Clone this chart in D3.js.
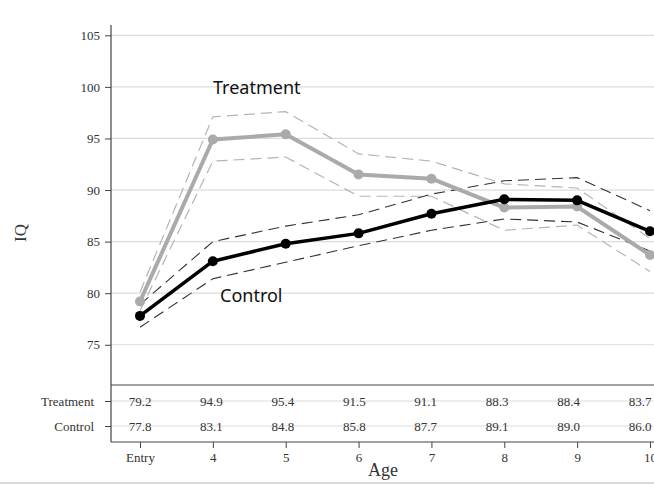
<!DOCTYPE html>
<html>
<head>
<meta charset="utf-8">
<script src="https://cdn.jsdelivr.net/npm/d3@7"></script>
<style>
  body { margin: 0; background: #fff; }
  .axis text { font-family: "Liberation Serif", "DejaVu Serif", serif; font-size: 13px; fill: #333; }
  .axis line { stroke: #444; }
</style>
</head>
<body>
<svg id="chart" width="654" height="485"></svg>
<script>
const ages = ["Entry", "4", "5", "6", "7", "8", "9", "10"];
const treatment = [79.2, 94.9, 95.4, 91.5, 91.1, 88.3, 88.4, 83.7];
const treatmentUpper = [80.1, 97.1, 97.6, 93.5, 92.8, 90.6, 90.2, 85.3];
const treatmentLower = [78.3, 92.8, 93.2, 89.4, 89.4, 86.1, 86.6, 82.1];
const control = [77.8, 83.1, 84.8, 85.8, 87.7, 89.1, 89.0, 86.0];
const controlUpper = [78.9, 85.0, 86.5, 87.6, 89.6, 90.9, 91.2, 88.0];
const controlLower = [76.7, 81.4, 83.0, 84.6, 86.1, 87.2, 86.9, 84.1];
const yTicks = [75, 80, 85, 90, 95, 100, 105];
const rowNames = ["Treatment", "Control"];

const svg = d3.select("#chart");
const plotLeft = 111, plotRight = 654, plotTop = 25, sep = 385, plotBottom = 442;

const x = d3.scalePoint().domain(ages).range([140, 650]);
// the printed table values sit slightly left of the age ticks
const xTable = d3.scalePoint().domain(ages).range([140, 640]);
const y = d3.scaleLinear().domain([71.1, 106]).range([sep, plotTop]);
const row = d3.scalePoint().domain(rowNames).range([401, 426]);

// gridlines
svg.append("g").selectAll("line")
    .data(yTicks)
  .enter().append("line")
    .attr("x1", plotLeft).attr("x2", plotRight)
    .attr("y1", d => y(d)).attr("y2", d => y(d))
    .attr("stroke", "#dcdcdc").attr("stroke-width", 1.2);
svg.append("g").selectAll("line")
    .data(rowNames)
  .enter().append("line")
    .attr("x1", plotLeft).attr("x2", plotRight)
    .attr("y1", d => row(d)).attr("y2", d => row(d))
    .attr("stroke", "#dcdcdc").attr("stroke-width", 1.2);

// axes
const yAxis = svg.append("g")
    .attr("class", "axis")
    .attr("transform", "translate(" + plotLeft + ",0)")
    .call(d3.axisLeft(y).tickValues(yTicks).tickSize(6).tickPadding(5));
yAxis.select(".domain").remove();

const rAxis = svg.append("g")
    .attr("class", "axis")
    .attr("transform", "translate(" + plotLeft + ",0)")
    .call(d3.axisLeft(row).tickSize(6).tickPadding(11));
rAxis.select(".domain").remove();

const xAxis = svg.append("g")
    .attr("class", "axis")
    .attr("transform", "translate(0," + plotBottom + ")")
    .call(d3.axisBottom(x).tickSize(6).tickPadding(5));
xAxis.select(".domain").remove();

svg.append("line")
    .attr("x1", plotLeft).attr("x2", plotLeft).attr("y1", plotTop).attr("y2", plotBottom)
    .attr("stroke", "#444").attr("stroke-width", 1.2);
svg.append("line")
    .attr("x1", plotLeft).attr("x2", plotRight).attr("y1", sep).attr("y2", sep)
    .attr("stroke", "#444").attr("stroke-width", 1.2);
svg.append("line")
    .attr("x1", plotLeft).attr("x2", plotRight).attr("y1", plotBottom).attr("y2", plotBottom)
    .attr("stroke", "#444").attr("stroke-width", 1.2);
svg.append("line")
    .attr("x1", 0).attr("x2", 654).attr("y1", 483).attr("y2", 483)
    .attr("stroke", "#ccc").attr("stroke-width", 1.5);

// axis titles
svg.append("text")
    .attr("transform", "translate(26,233) rotate(-90)")
    .attr("text-anchor", "middle")
    .style("font-family", "Liberation Serif, serif")
    .style("font-size", "17px")
    .attr("fill", "#333")
    .text("IQ");
svg.append("text")
    .attr("x", 383).attr("y", 476)
    .attr("text-anchor", "middle")
    .style("font-family", "Liberation Serif, serif")
    .style("font-size", "18px")
    .attr("fill", "#333")
    .text("Age");

// table values
const tableData = [
    {name: "Treatment", values: treatment},
    {name: "Control", values: control}
];
tableData.forEach(t => {
    svg.append("g").selectAll("text")
        .data(t.values)
      .enter().append("text")
        .attr("x", (d, i) => xTable(ages[i]))
        .attr("y", row(t.name))
        .attr("dy", "0.35em")
        .attr("text-anchor", "middle")
        .style("font-family", "Liberation Serif, serif")
        .style("font-size", "13px")
        .attr("fill", "#333")
        .text(d => d.toFixed(1));
});

// lines
const line = d3.line().x((d, i) => x(ages[i])).y(d => y(d));

function band(values, color, width) {
    svg.append("path")
        .datum(values)
        .attr("d", line)
        .attr("fill", "none")
        .attr("stroke", color)
        .attr("stroke-width", width)
        .attr("stroke-dasharray", "11,6");
}
band(treatmentUpper, "#b4b4b4", 1.2);
band(treatmentLower, "#b4b4b4", 1.2);
band(controlUpper, "#333", 1.1);
band(controlLower, "#333", 1.1);

function series(values, color, width) {
    svg.append("path")
        .datum(values)
        .attr("d", line)
        .attr("fill", "none")
        .attr("stroke", color)
        .attr("stroke-width", width)
        .attr("stroke-linejoin", "round");
    svg.append("g").selectAll("circle")
        .data(values)
      .enter().append("circle")
        .attr("cx", (d, i) => x(ages[i]))
        .attr("cy", d => y(d))
        .attr("r", 5)
        .attr("fill", color);
}
series(treatment, "#aaaaaa", 4);
series(control, "#000", 3.5);

// labels
svg.append("text")
    .attr("x", 213).attr("y", 94)
    .style("font-family", "Noto Sans, sans-serif")
    .style("font-size", "18px")
    .attr("fill", "#111")
    .text("Treatment");
svg.append("text")
    .attr("x", 220).attr("y", 302)
    .style("font-family", "Noto Sans, sans-serif")
    .style("font-size", "18px")
    .attr("fill", "#111")
    .text("Control");
</script>
</body>
</html>
